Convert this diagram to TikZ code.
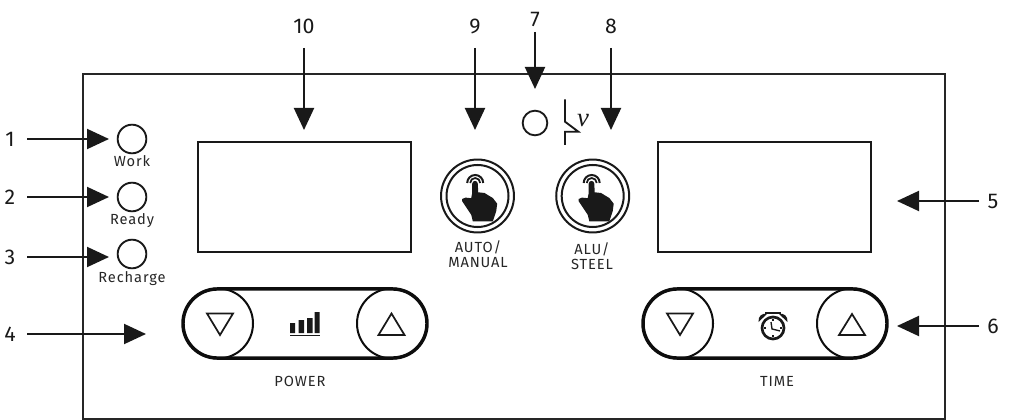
\documentclass[tikz,border=0pt]{standalone}
\usepackage{fontspec}
\setmainfont{Fira Sans}
\newfontfamily\lblfont[LetterSpace=6]{Fira Sans}
\newfontfamily\nufont{Liberation Serif}
\usetikzlibrary{arrows.meta}
\newcommand{\handicon}[1]{%
  \begin{scope}[shift={(#1)}]
    \fill[ink] (-17.3,2) -- (-14,0.6) -- (-8.3,1.2) -- (-7.3,-4) -- (-7.3,-13.3)
      .. controls (-7.3,-17) and (-1.7,-17) .. (-1.7,-13.3)
      -- (-1.3,-4.7) -- (5,-4) -- (13.3,1) -- (17.7,6.7) -- (16.7,14.3) -- (13.3,24.3)
      -- (-6.7,24.3) -- (-8.3,17.7) -- (-17.3,4.3) -- cycle;
    \draw[ink,line width=1.5pt] (-12.3,-14) arc[start angle=180,end angle=360,radius=8];
    \draw[ink,line width=1.3pt] (-9.3,-14) arc[start angle=180,end angle=360,radius=5];
  \end{scope}}
\tikzset{
  ink/.style={black!90},
  x=0.75pt,y=-0.75pt,
  every node/.style={outer sep=0pt},
  frameline/.style={draw=black!85,line width=1.5pt},
  led/.style={circle,draw=black!90,line width=1.4pt,minimum size=21.5pt,inner sep=0pt},
  ring/.style={circle,draw=black!90,line width=1.5pt,inner sep=0pt},
  pillbox/.style={rectangle,draw=black!95,line width=2.6pt,rounded corners=25.8pt,minimum width=183pt,minimum height=51.8pt,inner sep=0pt},
  capcircle/.style={circle,draw=black!95,line width=1.5pt,minimum size=52.5pt,inner sep=0pt},
  disp/.style={rectangle,draw=black!90,line width=1.6pt,minimum width=159.75pt,minimum height=82.5pt,inner sep=0pt},
  numlab/.style={inner sep=0pt,font=\fontsize{16pt}{18pt}\selectfont,text=black!90},
  smalllab/.style={inner sep=0pt,align=center,text=black!85,font=\lblfont\fontsize{11pt}{11.2pt}\selectfont},
  callout/.style={draw=black!90,line width=1.5pt,-{Triangle[length=16.5pt,width=15pt]}},
  tri/.style={draw=black!90,line width=1.3pt,line join=miter},
}
\begin{document}
\begin{tikzpicture}
\useasboundingbox (0,0) rectangle (1009,420);
% panel
\node[frameline,rectangle,inner sep=0pt,minimum width=646.9pt,minimum height=258pt,anchor=north west] (panel) at (82.5,74.5) {};
% displays
\node[disp] (dispL) at (304.5,197) {};
\node[disp] (dispR) at (764.5,197) {};
% LEDs
\node[led] (led1) at (132,139) {};
\node[led] (led2) at (132,197) {};
\node[led] (led3) at (132,254) {};
\node[smalllab] (tWork) at (132,161) {Work};
\node[smalllab] (tReady) at (132,221) {Ready};
\node[smalllab] (tRecharge) at (132,279) {Recharge};
% centre LED and switch symbol
\node[led,minimum size=18.5pt] (led7) at (535,123) {};
\draw[line width=1.4pt,black!90] (565,99.3) -- (565,121.7) -- (578.3,131.7) -- (565,131.7) -- (565,145);
\node[inner sep=0pt,text=black!90,font=\nufont\itshape\fontsize{20pt}{20pt}\selectfont] (nu) at (583,121) {ν};
% touch buttons
\node[ring,minimum size=54.7pt] (btnA) at (477.5,196) {};
\node[ring,minimum size=46.5pt] (btnAi) at (477.5,196) {};
\node[ring,minimum size=54.7pt] (btnB) at (592.7,196) {};
\node[ring,minimum size=46.5pt] (btnBi) at (592.7,196) {};
\handicon{479.5,197}
\handicon{596,197}
\node[smalllab] (tAuto) at (478,254.5) {AUTO/\\MANUAL};
\node[smalllab] (tAlu) at (592,256.5) {ALU/\\STEEL};
% POWER pill
\node[pillbox] (pillP) at (305,323.5) {};
\node[capcircle] (pDown) at (218,323.5) {};
\node[capcircle] (pUp) at (392,323.5) {};
\draw[tri] (207,313.5) -- (233,313.5) -- (220,335) -- cycle;
\draw[tri] (391.5,313.5) -- (378.5,335) -- (404.5,335) -- cycle;
\fill[ink] (290,323) rectangle (295,333) (298.5,320) rectangle (304,333) (307,318) rectangle (312.5,333) (314.5,312) rectangle (319.5,333);
\draw[ink,line width=1.2pt] (290,335.5) -- (319.5,335.5);
\node[smalllab] (tPower) at (300,381) {POWER};
% TIME pill
\node[pillbox] (pillT) at (765,323.5) {};
\node[capcircle] (tDown) at (678,323.5) {};
\node[capcircle] (tUp) at (852,323.5) {};
\draw[tri] (667,313.5) -- (693,313.5) -- (680,335) -- cycle;
\draw[tri] (852,314) -- (839,335) -- (865,335) -- cycle;
% alarm clock
\draw[ink,line width=2pt] (773,328) circle[radius=11];
\draw[ink,line width=1pt] (771,322) -- (772,329) -- (780,331);
\draw[ink,line width=0.8pt] (773,319) -- (773,321) (773,335) -- (773,337) (764,328) -- (766,328) (780,328) -- (782,328);
\draw[ink,line width=1.4pt] (765,313) -- (781,313);
\fill[ink] (758.5,322) .. controls (758,316) and (762,313) .. (767,314) -- cycle;
\fill[ink] (787.5,322) .. controls (788,316) and (784,313) .. (779,314) -- cycle;
\node[smalllab] (tTime) at (777,381) {TIME};
% number labels
\node[numlab,minimum width=25.5pt] (n1) at (10,139) {1};
\node[numlab,minimum width=25.5pt] (n2) at (10,197) {2};
\node[numlab,minimum width=25.5pt] (n3) at (10,257) {3};
\node[numlab,minimum width=25.5pt] (n4) at (10,334) {4};
\node[numlab,minimum width=21pt] (n5) at (993,201) {5};
\node[numlab,minimum width=21pt] (n6) at (993,326) {6};
\node[numlab,minimum height=19.5pt] (n7) at (535,19) {7};
\node[numlab,minimum height=33pt] (n8) at (611,26) {8};
\node[numlab,minimum height=33pt] (n9) at (475,26) {9};
\node[numlab,minimum height=33pt] (n10) at (304,26) {10};
% callout end points
\coordinate (e1) at (109,139);
\coordinate (e2) at (109,197);
\coordinate (e3) at (109,257);
\coordinate (e4) at (146,334);
\coordinate (e5) at (897,201);
\coordinate (e6) at (897,326);
\coordinate (e7) at (535,89);
\coordinate (e8) at (611,130);
\coordinate (e9) at (475,130);
\coordinate (e10) at (304,130);
\foreach \a/\b/\c in {n1/east/e1,n2/east/e2,n3/east/e3,n4/east/e4,n5/west/e5,n6/west/e6,n7/south/e7,n8/south/e8,n9/south/e9,n10/south/e10}
  \draw[callout] (\a.\b) -- (\c);
\end{tikzpicture}
\end{document}
